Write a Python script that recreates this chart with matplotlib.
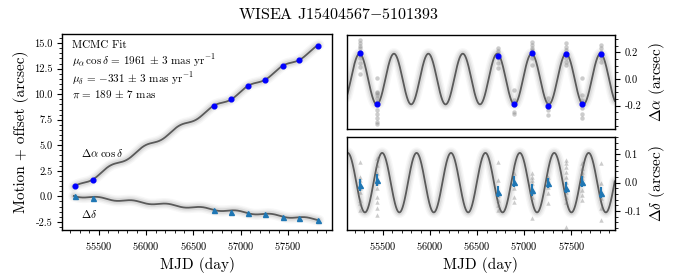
import numpy as np
import matplotlib
matplotlib.use("Agg")
import matplotlib.pyplot as plt
from matplotlib.ticker import MultipleLocator, FormatStrFormatter

plt.rcParams['font.family'] = 'serif'
plt.rcParams['font.serif'] = ['cmr10']
plt.rcParams['mathtext.fontset'] = 'cm'
plt.rcParams['axes.formatter.use_mathtext'] = True
plt.rcParams['axes.unicode_minus'] = True

# ---------------- data ----------------
epochs = [55252, 55435, 56717, 56894, 57077, 57253, 57445, 57618, 57810]

# left panel: motion + offset (arcsec)
ra_motion = [1.05, 1.58, 8.85, 9.5, 10.84, 11.4, 12.8, 13.36, 14.77]
dec_motion = [0.0, -0.15, -1.36, -1.49, -1.68, -1.78, -2.02, -2.11, -2.34]

# right panels: epoch means of residual parallax motion (arcsec)
ra_mean = [0.197, -0.187, 0.172, -0.187, 0.197, -0.202, 0.185, -0.187, 0.185]
dec_mean = [-0.008, 0.009, -0.032, 0.004, -0.026, 0.0, -0.018, 0.004, -0.035]
dec_err = [0.022, 0.02, 0.02, 0.018, 0.02, 0.018, 0.02, 0.018, 0.02]

# individual exposures (arcsec)
ra_single = [
    [0.29, 0.27, 0.25, 0.23, 0.20, 0.18, 0.155, 0.12, 0.09, 0.04],
    [0.005, -0.095, -0.107, -0.12, -0.145, -0.17, -0.18, -0.23, -0.26, -0.295, -0.32, -0.34],
    [0.23, 0.21, 0.19, 0.155, 0.12, 0.08],
    [-0.08, -0.16, -0.195, -0.245, -0.26],
    [0.28, 0.255, 0.23, 0.22, 0.155, 0.105],
    [-0.145, -0.17, -0.195, -0.21, -0.23, -0.27],
    [0.27, 0.24, 0.22, 0.19, 0.155, 0.13, 0.105],
    [0.005, -0.12, -0.16, -0.18, -0.22, -0.26, -0.295],
    [0.255, 0.23, 0.205, 0.18, 0.155, 0.13],
]
dec_single = [
    [0.074, 0.021, 0.01, -0.02, -0.032, -0.061, -0.073, -0.096],
    [0.086, 0.062, 0.033, 0.015, -0.002, -0.02, -0.049, -0.067, -0.09, -0.114],
    [0.074, 0.009, -0.044, -0.061, -0.079, -0.096],
    [0.033, -0.002, -0.02, -0.049, -0.067],
    [0.033, 0.021, 0.009, -0.002, -0.032, -0.049, -0.126],
    [0.021, 0.009, -0.014, -0.038, -0.073],
    [0.08, 0.068, 0.056, 0.039, 0.021, 0.004, -0.032, -0.049, -0.067, -0.155],
    [0.068, 0.051, 0.039, 0.027, 0.015, -0.002, -0.026, -0.044, -0.061],
    [0.068, -0.002, -0.032, -0.055, -0.09, -0.132],
]

# MCMC fit parameters (as displayed)
mu_ra = 1.961     # arcsec / yr
mu_dec = -0.331   # arcsec / yr
ra_amp = 0.19     # arcsec, parallax projection in RA
dec_amp = 0.105   # arcsec, parallax projection in Dec
ra_peak = 55252.0
dec_peak = 55492.0
ra_zero = 0.84
dec_zero = 0.05
t_ref = 55252.0
year = 365.25

xlim = (55115, 57960)

# ---------------- model curves ----------------
t = np.linspace(xlim[0], xlim[1], 1500)
ra_par = ra_amp * np.cos(2 * np.pi * (t - ra_peak) / year)
dec_par = dec_amp * np.cos(2 * np.pi * (t - dec_peak) / year)
ra_tot = ra_zero + mu_ra * (t - t_ref) / year + ra_par
dec_tot = dec_zero + mu_dec * (t - t_ref) / year + dec_par

line_c = '#5a5a5a'
band_c = '#a0a0a0'

def model(ax, x, y):
    for lw, a in [(8, 0.08), (6, 0.12), (4, 0.22)]:
        ax.plot(x, y, color=band_c, lw=lw, alpha=a, solid_capstyle='round', zorder=1)
    ax.plot(x, y, color=line_c, lw=1.3, zorder=2)

fig = plt.figure(figsize=(6.77, 2.8), dpi=100)

# ---------------- left panel ----------------
axL = fig.add_axes([0.092, 0.1786, 0.398, 0.70])
sel = (t > 55235) & (t < 57825)
model(axL, t[sel], ra_tot[sel])
model(axL, t[sel], dec_tot[sel])
axL.plot(epochs, ra_motion, 'o', color='blue', ms=3.4, zorder=3)
axL.plot(epochs, dec_motion, '^', color='C0', ms=3.6, zorder=3)
axL.set_xlim(*xlim)
axL.set_ylim(-3.3, 15.9)
axL.yaxis.set_major_locator(MultipleLocator(2.5))
axL.yaxis.set_minor_locator(MultipleLocator(0.5))
axL.xaxis.set_major_locator(MultipleLocator(500))
axL.xaxis.set_minor_locator(MultipleLocator(100))
axL.yaxis.set_major_formatter(FormatStrFormatter('%.1f'))
axL.set_xlabel('MJD (day)', fontsize=11)
axL.set_ylabel('Motion + offset (arcsec)', fontsize=11)
axL.text(0.035, 0.965,
         'MCMC Fit\n'
         r'$\mu_\alpha\,\cos\delta\,=\,1961\,\pm\,3$ mas yr$^{-1}$' '\n'
         r'$\mu_\delta\,=\,{-}331\,\pm\,3$ mas yr$^{-1}$' '\n'
         r'$\pi\,=\,189\,\pm\,7$ mas',
         transform=axL.transAxes, ha='left', va='top', fontsize=8, linespacing=1.15)
axL.text(55310, 4.25, r'$\Delta\alpha\;\cos\delta$', fontsize=8, ha='left', va='center')
axL.text(55310, -1.7, r'$\Delta\delta$', fontsize=8, ha='left', va='center')

# ---------------- right top ----------------
axT = fig.add_axes([0.512, 0.539, 0.396, 0.336])
model(axT, t, ra_par)
for ep, vals in zip(epochs, ra_single):
    axT.plot([ep] * len(vals), vals, 'o', color='gray', alpha=0.4, ms=3.2, mec='none', zorder=2.5)
axT.plot(epochs, ra_mean, 'o', color='blue', ms=3.4, zorder=3)
axT.set_xlim(*xlim)
axT.set_ylim(-0.375, 0.33)
axT.yaxis.set_major_locator(MultipleLocator(0.2))
axT.yaxis.set_minor_locator(MultipleLocator(0.05))
axT.yaxis.set_major_formatter(FormatStrFormatter('%.1f'))
axT.yaxis.tick_right()
axT.yaxis.set_label_position('right')
axT.tick_params(axis='x', which='both', bottom=False, labelbottom=False)
axT.set_ylabel(r'$\Delta\alpha$ (arcsec)', fontsize=11)

# ---------------- right bottom ----------------
axB = fig.add_axes([0.512, 0.1786, 0.396, 0.332])
model(axB, t, dec_par)
for ep, vals in zip(epochs, dec_single):
    axB.plot([ep] * len(vals), vals, '^', color='gray', alpha=0.4, ms=3.2, mec='none', zorder=2.5)
axB.errorbar(epochs, dec_mean, yerr=dec_err, fmt='^', color='C0', ms=3.6, elinewidth=1.5,
             capsize=0, zorder=3)
axB.set_xlim(*xlim)
axB.set_ylim(-0.167, 0.161)
axB.yaxis.set_major_locator(MultipleLocator(0.1))
axB.yaxis.set_minor_locator(MultipleLocator(0.02))
axB.xaxis.set_major_locator(MultipleLocator(500))
axB.xaxis.set_minor_locator(MultipleLocator(100))
axB.yaxis.set_major_formatter(FormatStrFormatter('%.1f'))
axB.yaxis.tick_right()
axB.yaxis.set_label_position('right')
axB.set_xlabel('MJD (day)', fontsize=11)
axB.set_ylabel(r'$\Delta\delta$ (arcsec)', fontsize=11)

for ax in (axL, axT, axB):
    ax.tick_params(which='both', labelsize=7.5, direction='out')
    ax.tick_params(which='major', length=3.5, width=0.8)
    ax.tick_params(which='minor', length=2, width=0.6)
    for s in ax.spines.values():
        s.set_linewidth(1.0)

fig.suptitle(r'WISEA J15404567$-$5101393', fontsize=11.5, y=0.975)

fig.savefig('out.png', dpi=100)
